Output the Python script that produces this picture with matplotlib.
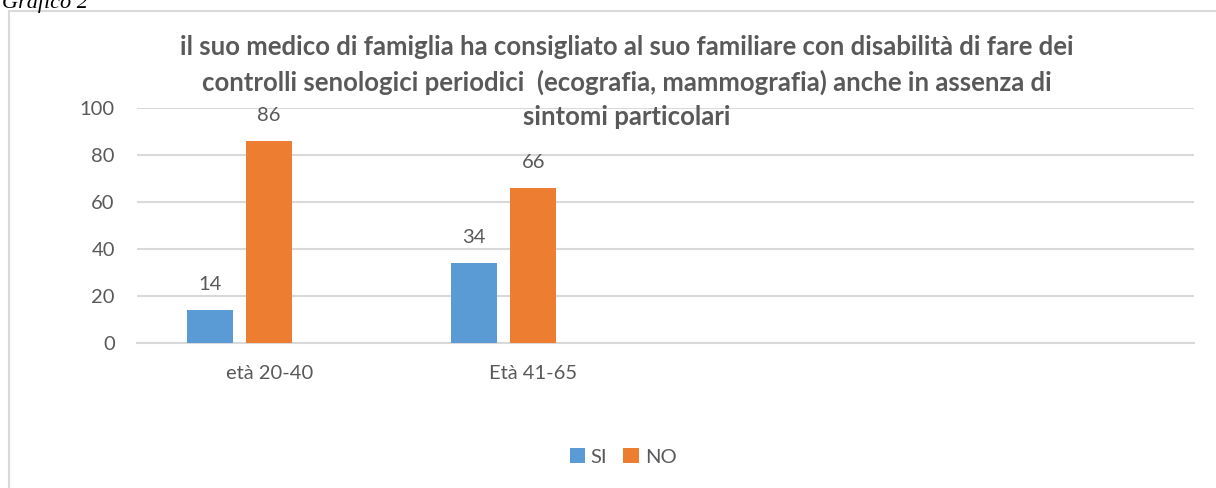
import numpy as np
import matplotlib.pyplot as plt
from matplotlib.patches import Rectangle

# data
categories = ["età 20-40", "Età 41-65", "", ""]
si = [14, 34, None, None]
no = [86, 66, None, None]
series_names = ["SI", "NO"]
title_lines = ["il suo medico di famiglia ha consigliato al suo familiare con disabilità di fare dei",
               "controlli senologici periodici  (ecografia, mammografia) anche in assenza di",
               "sintomi particolari"]

blue = "#5b9bd5"
orange = "#ed7d31"
txt = "#595959"
grid = "#d9d9d9"

plt.rcParams['font.family'] = ['Lato', 'DejaVu Sans']

fig = plt.figure(figsize=(12.16, 4.88), dpi=100)
ax = fig.add_axes([137 / 1216, 1 - 343 / 488, (1194 - 137) / 1216, (343 - 108) / 488])

x = np.arange(len(categories))
w = 46 / 264
step = 59 / 264
for vals, col, off, name in [(si, blue, -step, series_names[0]), (no, orange, 0, series_names[1])]:
    xs = [xi + off for xi, v in zip(x, vals) if v is not None]
    vs = [v for v in vals if v is not None]
    bars = ax.bar(xs, vs, width=w, color=col, label=name, zorder=3)
    for b, v in zip(bars, vs):
        ax.text(b.get_x() + b.get_width() / 2, v + 11, str(v), ha='center', va='center',
                fontsize=14.5, color=txt)

ax.set_xlim(-0.5, len(categories) - 0.5)
ax.set_ylim(0, 100)
ax.set_yticks(range(0, 101, 20))
ax.yaxis.grid(True, color=grid, linewidth=1.5, zorder=0)
ax.set_xticks(x)
ax.set_xticklabels(categories)
ax.tick_params(axis='both', length=0, labelsize=14.5, labelcolor=txt)
ax.tick_params(axis='x', pad=16)
ax.tick_params(axis='y', pad=16)
for s in ['top', 'right', 'left']:
    ax.spines[s].set_visible(False)
ax.spines['bottom'].set_color(grid)
ax.spines['bottom'].set_linewidth(1.5)

# title, one text per line
for i, line in enumerate(title_lines):
    fig.text(627 / 1216, 1 - (47 + 35 * i) / 488, line, ha='center', va='center',
             fontsize=18.5, fontweight='bold', color=txt)

fig.legend(loc='center', bbox_to_anchor=(623 / 1216, 1 - 457 / 488), ncol=2, frameon=False,
           fontsize=14.5, labelcolor=txt, handlelength=0.75, handleheight=0.75,
           handletextpad=0.3, columnspacing=0.8)

# chart frame and caption
fig.add_artist(Rectangle((9 / 1216, -0.1), 1.2, 1 - 11 / 488 + 0.1, transform=fig.transFigure,
                         fill=False, edgecolor=grid, linewidth=1.5))
fig.text(2 / 1216, 1 - 8 / 488, "Grafico 2", fontsize=16, fontstyle='italic',
         family='Liberation Serif', va='baseline', ha='left')

fig.savefig("out.png", dpi=100)
